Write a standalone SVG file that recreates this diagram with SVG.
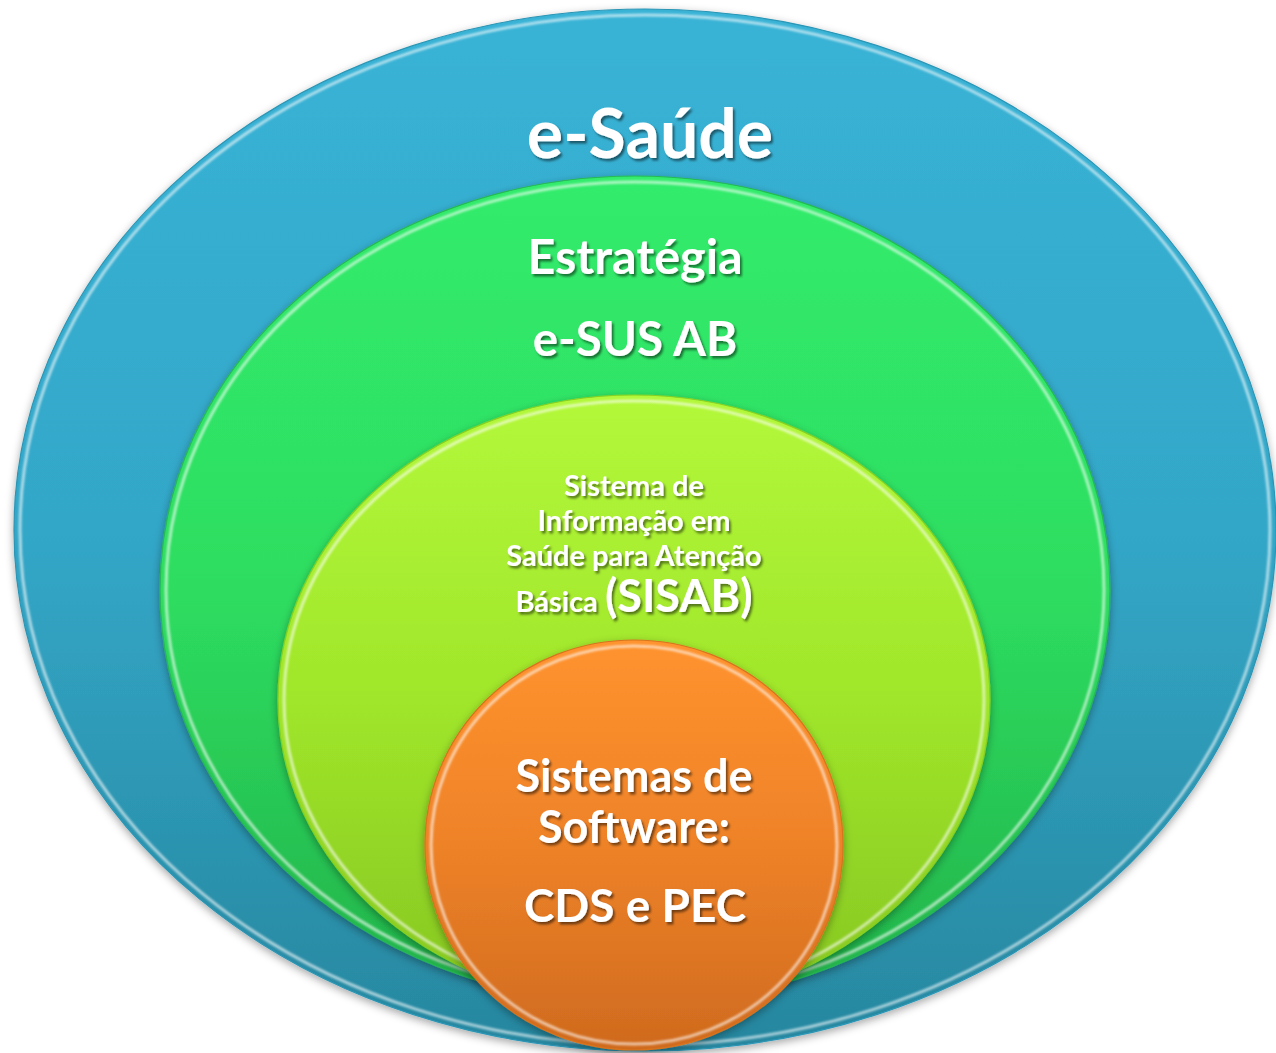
<svg xmlns="http://www.w3.org/2000/svg" width="1276" height="1053" viewBox="0 0 1276 1053">
  <defs>
    <linearGradient id="gBlue" x1="0" y1="0" x2="0" y2="1">
      <stop offset="0" stop-color="#38B3D6"/>
      <stop offset="0.5" stop-color="#33A7C8"/>
      <stop offset="1" stop-color="#27879F"/>
    </linearGradient>
    <linearGradient id="gGreen" x1="0" y1="0" x2="0" y2="1">
      <stop offset="0" stop-color="#31EC6C"/>
      <stop offset="0.5" stop-color="#2EDD60"/>
      <stop offset="1" stop-color="#22B24A"/>
    </linearGradient>
    <linearGradient id="gLime" x1="0" y1="0" x2="0" y2="1">
      <stop offset="0" stop-color="#B3F83A"/>
      <stop offset="0.5" stop-color="#A0E62A"/>
      <stop offset="1" stop-color="#86C622"/>
    </linearGradient>
    <linearGradient id="gOrange" x1="0" y1="0" x2="0" y2="1">
      <stop offset="0" stop-color="#FF932E"/>
      <stop offset="0.5" stop-color="#EE8228"/>
      <stop offset="1" stop-color="#CF6A1E"/>
    </linearGradient>
    <filter id="shapeShadow" x="-10%" y="-10%" width="120%" height="120%">
      <feDropShadow dx="0" dy="3" stdDeviation="4" flood-color="#000" flood-opacity="0.35"/>
    </filter>
    <filter id="rimBlur" x="-5%" y="-5%" width="110%" height="110%">
      <feGaussianBlur stdDeviation="0.8"/>
    </filter>
    <filter id="textShadow" x="-10%" y="-20%" width="120%" height="140%">
      <feDropShadow dx="2" dy="2.5" stdDeviation="1.3" flood-color="#000" flood-opacity="0.5"/>
    </filter>
  </defs>
  <style>
    .lbl { font-family: Lato, "Open Sans", "Liberation Sans", sans-serif; font-weight: bold; fill: #FFFFFF; text-anchor: middle; filter: url(#textShadow); }
    .rim { fill: none; stroke: #FFFFFF; stroke-opacity: 0.6; stroke-width: 3; filter: url(#rimBlur); }
    .edge { stroke-width: 1.2; }
  </style>

  <g id="node-esaude">
    <ellipse cx="645" cy="530" rx="631" ry="521" fill="url(#gBlue)" stroke="#2A95B5" class="edge" filter="url(#shapeShadow)"/>
    <ellipse class="rim" cx="645" cy="530" rx="625" ry="515" stroke="#BDF4FF"/>
    <text class="lbl" x="650" y="158" font-size="68">e-Saúde</text>
  </g>

  <g id="node-esusab">
    <ellipse cx="635" cy="590" rx="475" ry="414" fill="url(#gGreen)" stroke="#27B853" class="edge" filter="url(#shapeShadow)"/>
    <ellipse class="rim" cx="635" cy="590" rx="469" ry="408"/>
    <text class="lbl" x="635" y="274" font-size="48.5">Estratégia</text>
    <text class="lbl" x="635" y="356" font-size="47.5">e-SUS AB</text>
  </g>

  <g id="node-sisab">
    <ellipse cx="634" cy="700" rx="356" ry="305" fill="url(#gLime)" stroke="#8ACF22" class="edge" filter="url(#shapeShadow)"/>
    <ellipse class="rim" cx="634" cy="700" rx="350" ry="299"/>
    <text class="lbl" x="634" y="496" font-size="29">Sistema de</text>
    <text class="lbl" x="634" y="531" font-size="29">Informação em</text>
    <text class="lbl" x="634" y="566" font-size="29">Saúde para Atenção</text>
    <text class="lbl" x="634" y="612" font-size="29">Básica <tspan font-size="45">(SISAB)</tspan></text>
  </g>

  <g id="node-software">
    <ellipse cx="634" cy="845" rx="209" ry="205" fill="url(#gOrange)" stroke="#D8731F" class="edge" filter="url(#shapeShadow)"/>
    <ellipse class="rim" cx="634" cy="845" rx="203" ry="199"/>
    <text class="lbl" x="634" y="792" font-size="45">Sistemas de</text>
    <text class="lbl" x="634" y="843" font-size="45">Software:</text>
    <text class="lbl" x="635" y="922" font-size="46">CDS e PEC</text>
  </g>

  <g id="connectors"/>
</svg>
